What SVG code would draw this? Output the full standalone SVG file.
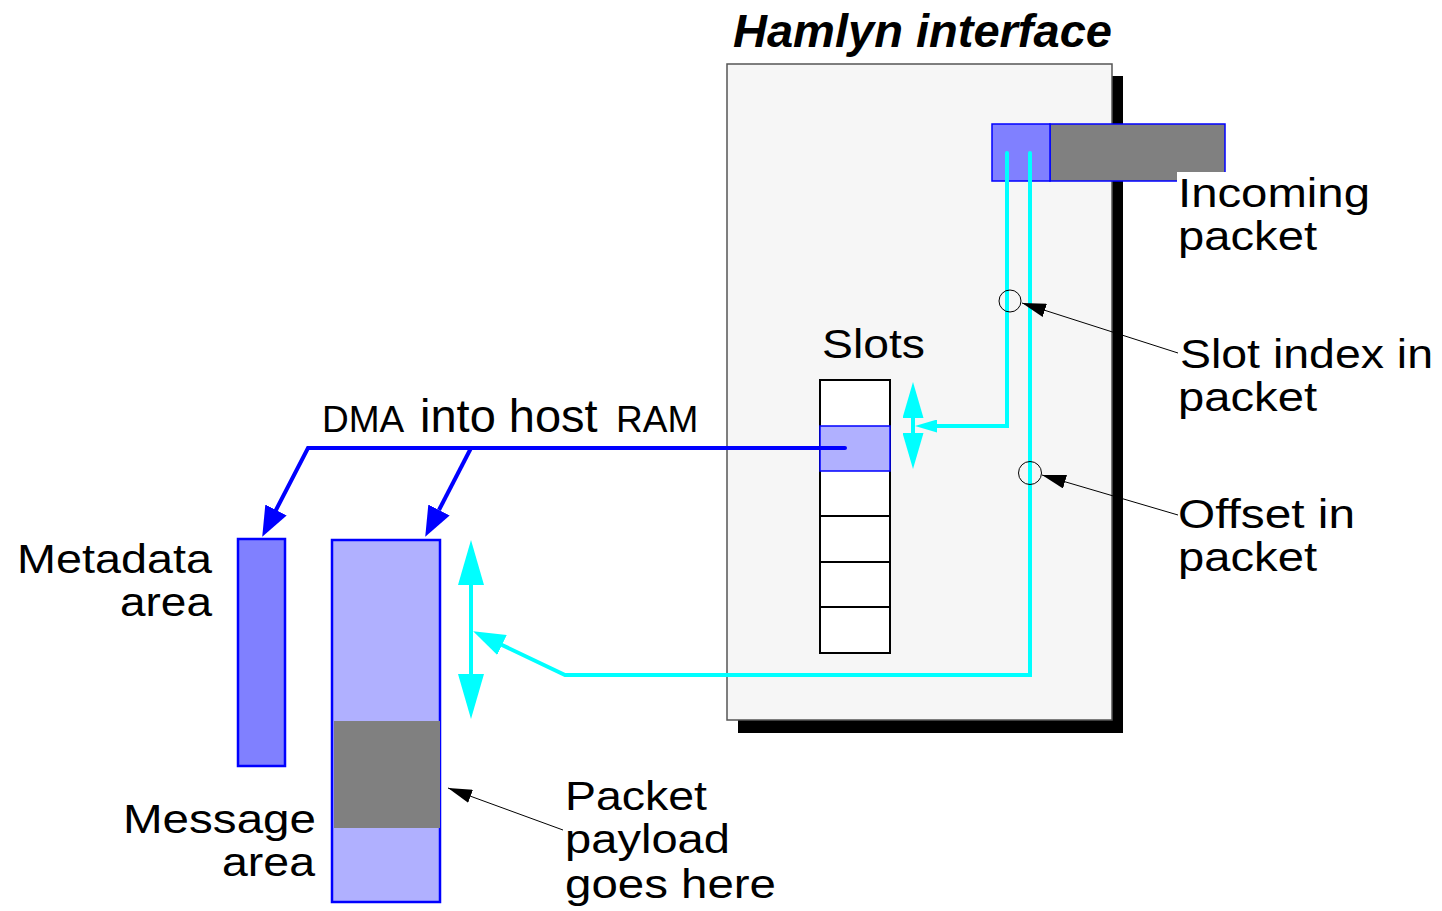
<svg xmlns="http://www.w3.org/2000/svg" width="1442" height="911" viewBox="0 0 1442 911">
<style>
text{font-family:"Liberation Sans",Arial,sans-serif;fill:#000}
.lbl{font-size:41px}
.cy{fill:none;stroke:#00ffff;stroke-width:4;stroke-linejoin:miter}
.bl{fill:none;stroke:#0000ff;stroke-width:4}
.ld{fill:none;stroke:#000;stroke-width:1}
.slot{fill:#fff;stroke:#000;stroke-width:2}
</style>
<defs>
<marker id="blueHead" markerUnits="userSpaceOnUse" viewBox="0 0 30 24" refX="0" refY="12" markerWidth="30" markerHeight="24" orient="auto"><path d="M0,0 L30,12 L0,24 z" fill="#0000ff"/></marker>
<marker id="cyBig" markerUnits="userSpaceOnUse" viewBox="0 0 45 26" refX="0" refY="13" markerWidth="45" markerHeight="26" orient="auto-start-reverse"><path d="M0,0 L45,13 L0,26 z" fill="#00ffff"/></marker>
<marker id="cyMid" markerUnits="userSpaceOnUse" viewBox="0 0 36 21" refX="0" refY="10.5" markerWidth="36" markerHeight="21" orient="auto-start-reverse"><path d="M0,0 L36,10.5 L0,21 z" fill="#00ffff"/></marker>
<marker id="cyDiag" markerUnits="userSpaceOnUse" viewBox="0 0 32 22" refX="0" refY="11" markerWidth="32" markerHeight="22" orient="auto"><path d="M0,0 L32,11 L0,22 z" fill="#00ffff"/></marker>
<marker id="cySmall" markerUnits="userSpaceOnUse" viewBox="0 0 22 13" refX="0" refY="6.5" markerWidth="22" markerHeight="13" orient="auto"><path d="M0,0 L22,6.5 L0,13 z" fill="#00ffff"/></marker>
<marker id="blk" markerUnits="userSpaceOnUse" viewBox="0 0 24 14" refX="24" refY="7" markerWidth="24" markerHeight="14" orient="auto"><path d="M0,0 L24,7 L0,14 z" fill="#000"/></marker>
</defs>
<rect width="1442" height="911" fill="#fff"/>

<g id="hamlyn-interface">
<rect x="738" y="76" width="385" height="657" fill="#000"/>
<rect x="727" y="64" width="385" height="656" fill="#f6f6f6" stroke="#555" stroke-width="1.5"/>
<text x="733" y="47" font-size="47" font-weight="bold" font-style="italic" textLength="379" lengthAdjust="spacingAndGlyphs">Hamlyn interface</text>
</g>

<g id="incoming-packet">
<rect x="1050" y="124" width="175" height="57" fill="#808080" stroke="#0000ff" stroke-width="1.5"/>
<rect x="992" y="124" width="58" height="57" fill="#8080ff" stroke="#0000ff" stroke-width="1.5"/>
<rect x="1177" y="172" width="200" height="86" fill="#fff"/>
<text class="lbl" x="1178" y="207" textLength="192" lengthAdjust="spacingAndGlyphs">Incoming</text>
<text class="lbl" x="1178" y="250" textLength="139" lengthAdjust="spacingAndGlyphs">packet</text>
</g>

<g id="slots">
<text class="lbl" x="822" y="358" textLength="103" lengthAdjust="spacingAndGlyphs">Slots</text>
<rect class="slot" x="820" y="380" width="70" height="273"/>
<line x1="820" y1="516" x2="890" y2="516" stroke="#000" stroke-width="2"/>
<line x1="820" y1="562" x2="890" y2="562" stroke="#000" stroke-width="2"/>
<line x1="820" y1="607" x2="890" y2="607" stroke="#000" stroke-width="2"/>
<rect x="820" y="426" width="70" height="45" fill="#b0b0ff" stroke="#0000ff" stroke-width="1.5"/>
</g>

<g id="slot-index-label">
<text class="lbl" x="1180" y="368" textLength="253" lengthAdjust="spacingAndGlyphs">Slot index in</text>
<text class="lbl" x="1178" y="411" textLength="139" lengthAdjust="spacingAndGlyphs">packet</text>
</g>

<g id="offset-label">
<text class="lbl" x="1178" y="528" textLength="177" lengthAdjust="spacingAndGlyphs">Offset in</text>
<text class="lbl" x="1178" y="571" textLength="139" lengthAdjust="spacingAndGlyphs">packet</text>
</g>

<g id="metadata-area">
<rect x="238" y="539" width="47" height="227" fill="#8080ff" stroke="#0000ff" stroke-width="2.5"/>
<text class="lbl" x="212" y="573" text-anchor="end" textLength="195" lengthAdjust="spacingAndGlyphs">Metadata</text>
<text class="lbl" x="212" y="616" text-anchor="end" textLength="92" lengthAdjust="spacingAndGlyphs">area</text>
</g>

<g id="message-area">
<rect x="332" y="540" width="108" height="362" fill="#b0b0ff" stroke="#0000ff" stroke-width="2.5"/>
<rect x="334" y="721" width="106" height="107" fill="#808080"/>
<text class="lbl" x="316" y="833" text-anchor="end" textLength="193" lengthAdjust="spacingAndGlyphs">Message</text>
<text class="lbl" x="315" y="876" text-anchor="end" textLength="93" lengthAdjust="spacingAndGlyphs">area</text>
</g>

<g id="payload-label">
<text class="lbl" x="565" y="810" textLength="142" lengthAdjust="spacingAndGlyphs">Packet</text>
<text class="lbl" x="565" y="853" textLength="165" lengthAdjust="spacingAndGlyphs">payload</text>
<text class="lbl" x="565" y="898" textLength="211" lengthAdjust="spacingAndGlyphs">goes here</text>
</g>

<g id="dma-label">
<text x="322" y="432"><tspan x="322" font-size="37">DMA</tspan> <tspan x="420" font-size="47">into host</tspan> <tspan x="616" font-size="37">RAM</tspan></text>
</g>

<g id="connectors">
<polyline class="cy" points="1007,153 1007,426 937,426" stroke-linecap="round" marker-end="url(#cySmall)"/>
<line class="cy" x1="913" y1="418" x2="913" y2="433" marker-start="url(#cyMid)" marker-end="url(#cyMid)"/>
<polyline class="cy" points="1030,153 1030,675 565,675 502,645" stroke-linecap="round" marker-end="url(#cyDiag)"/>
<line class="cy" x1="471" y1="585" x2="471" y2="674" marker-start="url(#cyBig)" marker-end="url(#cyBig)"/>
<polyline class="bl" points="845,448 308,448 276,510" stroke-linecap="round" marker-end="url(#blueHead)"/>
<line class="bl" x1="471" y1="448" x2="439" y2="510" marker-end="url(#blueHead)"/>
<circle cx="1010" cy="301" r="11" fill="none" stroke="#000" stroke-width="1"/>
<circle cx="1030" cy="473" r="11.5" fill="none" stroke="#000" stroke-width="1"/>
<line class="ld" x1="1178" y1="353" x2="1022" y2="303" marker-end="url(#blk)"/>
<line class="ld" x1="1178" y1="515" x2="1042" y2="475" marker-end="url(#blk)"/>
<line class="ld" x1="563" y1="830" x2="448" y2="788" marker-end="url(#blk)"/>
</g>
</svg>
